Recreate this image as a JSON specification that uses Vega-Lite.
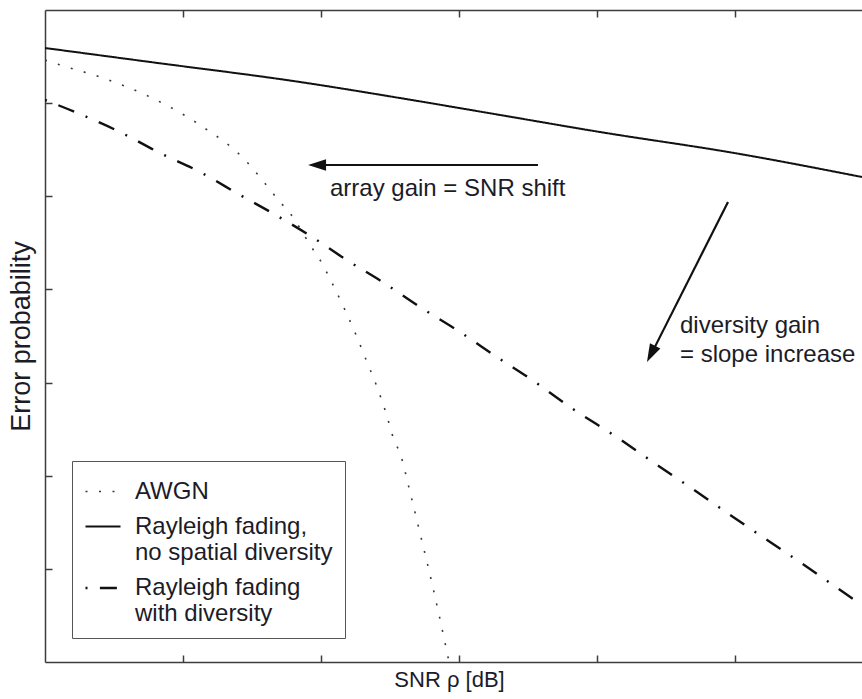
{
  "$schema": "https://vega.github.io/schema/vega-lite/v6.json",
  "width": 817,
  "height": 652,
  "autosize": {"type": "none"},
  "padding": {"left": 45, "top": 10, "right": 0, "bottom": 37},
  "background": "white",
  "config": {
    "view": {"stroke": null},
    "font": "Liberation Sans",
    "legend": {
      "orient": "none",
      "legendX": 27,
      "legendY": 451,
      "symbolType": "stroke",
      "symbolSize": 1225,
      "labelFont": "Liberation Sans",
      "labelFontSize": 24,
      "labelColor": "#1c1c28",
      "labelOffset": 13,
      "labelLimit": 0,
      "padding": 12,
      "rowPadding": 4,
      "fillColor": "white",
      "strokeColor": "#555555"
    }
  },
  "datasets": {
    "curves": [
      {"curve": "AWGN", "snr": 0, "log10_pe": -0.537},
      {"curve": "AWGN", "snr": 0.109, "log10_pe": -0.59},
      {"curve": "AWGN", "snr": 0.399, "log10_pe": -0.719},
      {"curve": "AWGN", "snr": 0.761, "log10_pe": -0.934},
      {"curve": "AWGN", "snr": 1.123, "log10_pe": -1.235},
      {"curve": "AWGN", "snr": 1.449, "log10_pe": -1.61},
      {"curve": "AWGN", "snr": 1.58, "log10_pe": -1.836},
      {"curve": "AWGN", "snr": 1.703, "log10_pe": -2.061},
      {"curve": "AWGN", "snr": 1.775, "log10_pe": -2.18},
      {"curve": "AWGN", "snr": 1.833, "log10_pe": -2.308},
      {"curve": "AWGN", "snr": 1.935, "log10_pe": -2.555},
      {"curve": "AWGN", "snr": 1.993, "log10_pe": -2.684},
      {"curve": "AWGN", "snr": 2.087, "log10_pe": -2.952},
      {"curve": "AWGN", "snr": 2.174, "log10_pe": -3.221},
      {"curve": "AWGN", "snr": 2.254, "log10_pe": -3.489},
      {"curve": "AWGN", "snr": 2.333, "log10_pe": -3.779},
      {"curve": "AWGN", "snr": 2.406, "log10_pe": -4.048},
      {"curve": "AWGN", "snr": 2.471, "log10_pe": -4.327},
      {"curve": "AWGN", "snr": 2.529, "log10_pe": -4.617},
      {"curve": "AWGN", "snr": 2.572, "log10_pe": -4.756},
      {"curve": "AWGN", "snr": 2.645, "log10_pe": -5.175},
      {"curve": "AWGN", "snr": 2.717, "log10_pe": -5.615},
      {"curve": "AWGN", "snr": 2.812, "log10_pe": -6.206},
      {"curve": "AWGN", "snr": 2.899, "log10_pe": -6.796},
      {"curve": "AWGN", "snr": 2.935, "log10_pe": -7.05},
      {"curve": "Rayleigh fading, no spatial diversity", "snr": 0, "log10_pe": -0.408},
      {"curve": "Rayleigh fading, no spatial diversity", "snr": 0.761, "log10_pe": -0.558},
      {"curve": "Rayleigh fading, no spatial diversity", "snr": 1.848, "log10_pe": -0.773},
      {"curve": "Rayleigh fading, no spatial diversity", "snr": 2.572, "log10_pe": -0.945},
      {"curve": "Rayleigh fading, no spatial diversity", "snr": 3.297, "log10_pe": -1.127},
      {"curve": "Rayleigh fading, no spatial diversity", "snr": 4.022, "log10_pe": -1.31},
      {"curve": "Rayleigh fading, no spatial diversity", "snr": 4.993, "log10_pe": -1.535},
      {"curve": "Rayleigh fading, no spatial diversity", "snr": 5.92, "log10_pe": -1.793},
      {"curve": "Rayleigh fading with diversity", "snr": 0, "log10_pe": -0.966},
      {"curve": "Rayleigh fading with diversity", "snr": 0.217, "log10_pe": -1.095},
      {"curve": "Rayleigh fading with diversity", "snr": 0.543, "log10_pe": -1.31},
      {"curve": "Rayleigh fading with diversity", "snr": 0.833, "log10_pe": -1.535},
      {"curve": "Rayleigh fading with diversity", "snr": 1.123, "log10_pe": -1.739},
      {"curve": "Rayleigh fading with diversity", "snr": 1.413, "log10_pe": -1.986},
      {"curve": "Rayleigh fading with diversity", "snr": 1.659, "log10_pe": -2.19},
      {"curve": "Rayleigh fading with diversity", "snr": 1.935, "log10_pe": -2.437},
      {"curve": "Rayleigh fading with diversity", "snr": 2.174, "log10_pe": -2.673},
      {"curve": "Rayleigh fading with diversity", "snr": 2.457, "log10_pe": -2.931},
      {"curve": "Rayleigh fading with diversity", "snr": 2.717, "log10_pe": -3.189},
      {"curve": "Rayleigh fading with diversity", "snr": 3.007, "log10_pe": -3.457},
      {"curve": "Rayleigh fading with diversity", "snr": 3.275, "log10_pe": -3.726},
      {"curve": "Rayleigh fading with diversity", "snr": 3.551, "log10_pe": -3.994},
      {"curve": "Rayleigh fading with diversity", "snr": 3.804, "log10_pe": -4.262},
      {"curve": "Rayleigh fading with diversity", "snr": 4.152, "log10_pe": -4.595},
      {"curve": "Rayleigh fading with diversity", "snr": 4.457, "log10_pe": -4.907},
      {"curve": "Rayleigh fading with diversity", "snr": 4.725, "log10_pe": -5.175},
      {"curve": "Rayleigh fading with diversity", "snr": 4.986, "log10_pe": -5.443},
      {"curve": "Rayleigh fading with diversity", "snr": 5.254, "log10_pe": -5.712},
      {"curve": "Rayleigh fading with diversity", "snr": 5.522, "log10_pe": -5.98},
      {"curve": "Rayleigh fading with diversity", "snr": 5.783, "log10_pe": -6.249},
      {"curve": "Rayleigh fading with diversity", "snr": 5.92, "log10_pe": -6.39}
    ],
    "arrows": [
      {"arrow": "array gain", "snr": 3.572, "log10_pe": -1.664, "snr_end": 2.0, "log10_pe_end": -1.664},
      {"arrow": "diversity gain", "snr": 4.949, "log10_pe": -2.061, "snr_end": 4.391, "log10_pe_end": -3.7}
    ],
    "heads": [
      {"arrow": "array gain", "snr": 1.906, "log10_pe": -1.664},
      {"arrow": "diversity gain", "snr": 4.362, "log10_pe": -3.779}
    ],
    "notes": [
      {"note": "array gain = SNR shift", "snr": 2.065, "log10_pe": -1.917},
      {"note": "diversity gain", "snr": 4.601, "log10_pe": -3.398},
      {"note": "= slope increase", "snr": 4.601, "log10_pe": -3.704}
    ]
  },
  "layer": [
    {
      "data": {"name": "curves"},
      "mark": {"type": "line", "clip": true, "interpolate": "monotone", "strokeCap": "butt"},
      "encoding": {
        "x": {
          "field": "snr",
          "type": "quantitative",
          "scale": {"domain": [0, 5.92], "nice": false, "zero": false},
          "axis": {
            "orient": "bottom",
            "values": [1, 2, 3, 4, 5],
            "labels": false,
            "grid": false,
            "tickSize": -7,
            "tickColor": "#3c3c3c",
            "tickWidth": 1.5,
            "domainColor": "#3c3c3c",
            "domainWidth": 1.5,
            "title": "SNR ρ [dB]",
            "titleFont": "Liberation Sans",
            "titleFontSize": 22,
            "titleFontWeight": "normal",
            "titleColor": "#1c1c28",
            "titlePadding": 7,
            "titleX": 404
          }
        },
        "y": {
          "field": "log10_pe",
          "type": "quantitative",
          "scale": {"domain": [-7, 0], "nice": false, "zero": false},
          "axis": {
            "orient": "left",
            "values": [-6, -5, -4, -3, -2, -1],
            "labels": false,
            "grid": false,
            "tickSize": -7,
            "tickColor": "#3c3c3c",
            "tickWidth": 1.5,
            "domainColor": "#3c3c3c",
            "domainWidth": 1.5,
            "title": "Error probability",
            "titleFont": "Liberation Sans",
            "titleFontSize": 27,
            "titleFontWeight": "normal",
            "titleColor": "#1c1c28",
            "titlePadding": 9
          }
        },
        "color": {
          "field": "curve",
          "type": "nominal",
          "scale": {
            "domain": ["AWGN", "Rayleigh fading, no spatial diversity", "Rayleigh fading with diversity"],
            "range": ["#3a3a3a", "#111111", "#111111"]
          },
          "legend": {"title": null, "labelExpr": "datum.label == 'AWGN' ? 'AWGN' : datum.label == 'Rayleigh fading, no spatial diversity' ? ['Rayleigh fading,', 'no spatial diversity'] : ['Rayleigh fading', 'with diversity']"}
        },
        "strokeDash": {
          "field": "curve",
          "type": "nominal",
          "scale": {
            "domain": ["AWGN", "Rayleigh fading, no spatial diversity", "Rayleigh fading with diversity"],
            "range": [[2, 11.5], [1, 0], [2, 12.4, 17, 12.4]]
          },
          "legend": {"title": null, "labelExpr": "datum.label == 'AWGN' ? 'AWGN' : datum.label == 'Rayleigh fading, no spatial diversity' ? ['Rayleigh fading,', 'no spatial diversity'] : ['Rayleigh fading', 'with diversity']"}
        },
        "strokeWidth": {
          "field": "curve",
          "type": "nominal",
          "scale": {
            "domain": ["AWGN", "Rayleigh fading, no spatial diversity", "Rayleigh fading with diversity"],
            "range": [1.6, 2.4, 2.6]
          },
          "legend": {"title": null, "labelExpr": "datum.label == 'AWGN' ? 'AWGN' : datum.label == 'Rayleigh fading, no spatial diversity' ? ['Rayleigh fading,', 'no spatial diversity'] : ['Rayleigh fading', 'with diversity']"}
        }
      }
    },
    {
      "data": {"name": "arrows"},
      "mark": {"type": "rule", "color": "#111111", "strokeWidth": 2.2},
      "encoding": {
        "x": {
          "field": "snr",
          "type": "quantitative",
          "axis": {
            "orient": "top",
            "values": [1, 2, 3, 4, 5],
            "labels": false,
            "grid": false,
            "tickSize": -7,
            "tickColor": "#3c3c3c",
            "tickWidth": 1.5,
            "domainColor": "#3c3c3c",
            "domainWidth": 1.5,
            "title": null
          }
        },
        "y": {"field": "log10_pe", "type": "quantitative", "axis": null},
        "x2": {"field": "snr_end"},
        "y2": {"field": "log10_pe_end"}
      }
    },
    {
      "data": {"name": "heads"},
      "transform": [{"filter": "datum.arrow == 'array gain'"}],
      "mark": {"type": "point", "shape": "M0,0 L2,-0.65 L2,0.65 Z", "filled": true, "opacity": 1, "size": 324, "color": "#111111", "angle": 0},
      "encoding": {
        "x": {"field": "snr", "type": "quantitative", "axis": null},
        "y": {"field": "log10_pe", "type": "quantitative", "axis": null}
      }
    },
    {
      "data": {"name": "heads"},
      "transform": [{"filter": "datum.arrow == 'diversity gain'"}],
      "mark": {"type": "point", "shape": "M0,0 L2,-0.65 L2,0.65 Z", "filled": true, "opacity": 1, "size": 324, "color": "#111111", "angle": 297},
      "encoding": {
        "x": {"field": "snr", "type": "quantitative", "axis": null},
        "y": {"field": "log10_pe", "type": "quantitative", "axis": null}
      }
    },
    {
      "data": {"name": "notes"},
      "mark": {"type": "text", "align": "left", "baseline": "middle", "font": "Liberation Sans", "fontSize": 24, "color": "#1c1c28"},
      "encoding": {
        "x": {"field": "snr", "type": "quantitative", "axis": null},
        "y": {"field": "log10_pe", "type": "quantitative", "axis": null},
        "text": {"field": "note"}
      }
    }
  ],
  "resolve": {"axis": {"x": "independent", "y": "independent"}}
}
